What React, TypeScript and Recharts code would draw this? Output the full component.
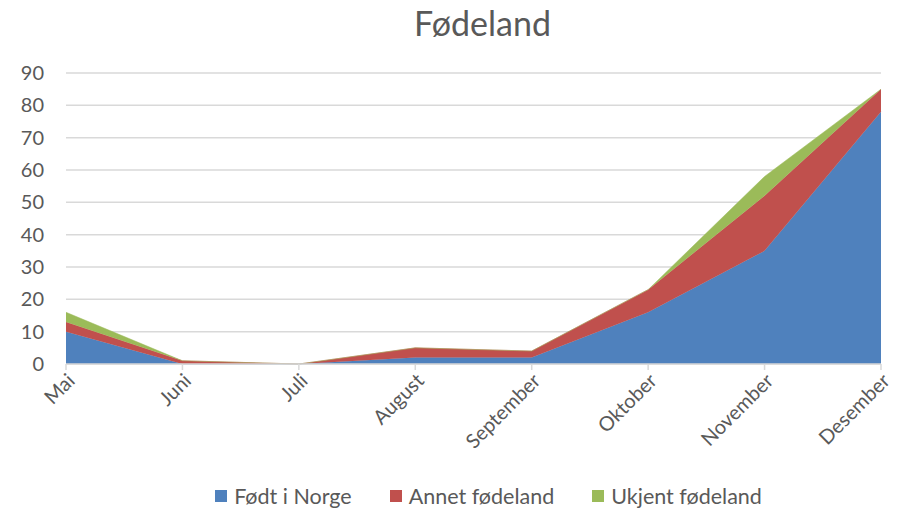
import React from "react";
import {
  AreaChart,
  Area,
  XAxis,
  YAxis,
  CartesianGrid,
  Legend,
} from "recharts";

const months = ["Mai", "Juni", "Juli", "August", "September", "Oktober", "November", "Desember"];
const fodtINorge = [10, 0, 0, 2, 2, 16, 35, 78];
const annetFodeland = [3, 1, 0, 3, 2, 7, 17, 7];
const ukjentFodeland = [3, 0, 0, 0, 0, 0, 6, 0];
const yTicks = [0, 10, 20, 30, 40, 50, 60, 70, 80, 90];

const seriesInfo = [
  { key: "norge", name: "Født i Norge", color: "#4f81bd" },
  { key: "annet", name: "Annet fødeland", color: "#c0504d" },
  { key: "ukjent", name: "Ukjent fødeland", color: "#9bbb59" },
];

const data = months.map((m, i) => ({
  month: m,
  norge: fodtINorge[i],
  annet: annetFodeland[i],
  ukjent: ukjentFodeland[i],
}));

const font = "Lato, 'Open Sans', sans-serif";

const LegendContent = () => (
  <div style={{ display: "flex", justifyContent: "center", paddingLeft: 116, fontSize: 21.5, color: "#595959" }}>
    {seriesInfo.map((s) => (
      <div key={s.key} style={{ display: "flex", alignItems: "center", marginRight: 38 }}>
        <span style={{ display: "inline-block", width: 12, height: 12, background: s.color, marginRight: 7 }} />
        <span>{s.name}</span>
      </div>
    ))}
  </div>
);

const App: React.FC = () => {
  return (
    <div style={{ position: "absolute", left: 0, top: 0, width: 899, height: 512, fontFamily: font, background: "#fff" }}>
      <div
        style={{
          position: "absolute",
          left: 0,
          width: 899,
          top: 2,
          textAlign: "center",
          fontSize: 34,
          color: "#595959",
          paddingLeft: 66,
          boxSizing: "border-box",
        }}
      >
        Fødeland
      </div>
      <AreaChart
        width={899}
        height={512}
        data={data}
        margin={{ top: 73, right: 18, left: 0, bottom: 0 }}
      >
        <CartesianGrid vertical={false} stroke="#d9d9d9" strokeWidth={1.5} />
        <XAxis
          dataKey="month"
          stroke="#d9d9d9"
          strokeWidth={1.5}
          tickSize={6}
          angle={-45}
          textAnchor="end"
          height={122}
          tick={{ fill: "#595959", fontSize: 20 }}
          tickMargin={2}
          interval={0}
        />
        <YAxis
          domain={[0, 90]}
          ticks={yTicks}
          axisLine={false}
          tickLine={false}
          tickSize={0}
          tickMargin={22}
          width={66}
          tick={{ fill: "#595959", fontSize: 20 }}
        />
        {seriesInfo.map((s) => (
          <Area
            key={s.key}
            type="linear"
            dataKey={s.key}
            name={s.name}
            stackId="a"
            stroke={s.color}
            strokeWidth={0.5}
            fill={s.color}
            fillOpacity={1}
            isAnimationActive={false}
          />
        ))}
        <Legend
          content={LegendContent}
          wrapperStyle={{ top: 483, left: 0, width: 899 }}
        />
      </AreaChart>
    </div>
  );
};

export default App;
